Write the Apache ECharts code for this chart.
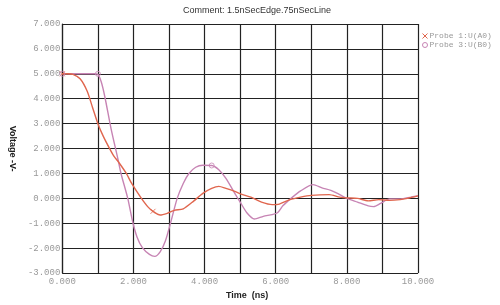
<!DOCTYPE html>
<html><head><meta charset="utf-8">
<script src="https://cdn.jsdelivr.net/npm/echarts@6/dist/echarts.min.js"></script>
<style>html,body{margin:0;padding:0;background:#fff}#c{width:500px;height:305px}</style>
</head><body><div id="c"></div>
<script>
const titleText = 'Comment: 1.5nSecEdge.75nSecLine';
const seriesNames = ['Probe 1:U(A0)', 'Probe 3:U(B0)'];
const xTicks = [0, 2, 4, 6, 8, 10];
const probe1 = [[0,5],[0.15,5],[0.3,4.98],[0.5,4.8],[0.7,4.3],[0.85,3.65],[1.0,3.0],[1.15,2.5],[1.33,2.0],[1.45,1.7],[1.6,1.42],[1.8,1.0],[1.95,0.6],[2.2,0.05],[2.4,-0.33],[2.55,-0.52],[2.75,-0.67],[2.95,-0.6],[3.15,-0.48],[3.4,-0.42],[3.7,-0.1],[3.95,0.2],[4.2,0.4],[4.4,0.48],[4.6,0.4],[4.85,0.28],[5.05,0.16],[5.3,0.05],[5.6,-0.15],[5.9,-0.25],[6.1,-0.23],[6.4,-0.05],[6.7,0.05],[7.0,0.12],[7.5,0.15],[7.8,0.05],[8.0,0.02],[8.3,0.0],[8.6,-0.1],[8.9,-0.05],[9.2,-0.08],[9.5,-0.05],[9.7,0.0],[10,0.1]];
const probe3 = [[0,5],[0.9,5.0],[1.0,4.98],[1.1,4.65],[1.2,4.05],[1.37,2.8],[1.56,1.6],[1.65,1.0],[1.84,0.0],[1.98,-0.95],[2.1,-1.55],[2.25,-1.98],[2.45,-2.25],[2.6,-2.33],[2.75,-2.15],[2.9,-1.7],[3.05,-0.95],[3.23,0.0],[3.4,0.6],[3.56,1.0],[3.75,1.25],[3.95,1.33],[4.2,1.32],[4.4,1.15],[4.6,0.8],[4.85,0.2],[5.0,-0.15],[5.2,-0.6],[5.4,-0.83],[5.65,-0.72],[5.9,-0.65],[6.05,-0.58],[6.2,-0.3],[6.43,0.0],[6.7,0.3],[7.05,0.55],[7.3,0.42],[7.55,0.32],[7.8,0.15],[8.0,0.0],[8.3,-0.15],[8.6,-0.3],[8.75,-0.33],[8.95,-0.2],[9.2,-0.02],[9.5,-0.02],[9.8,0.05],[10,0.1]];
const markers1 = [[0,5],[2.55,-0.52]];
const markers3 = [[0,5],[1.0,5.0],[4.2,1.32]];

const red = '#e0664e', purple = '#c784b4';
const xPath = 'path://M0,0L10,10M10,0L0,10';
const chart = echarts.init(document.getElementById('c'), null, {renderer:'canvas'});
const mono = 'Liberation Mono';
chart.setOption({
  animation:false,
  backgroundColor:'#fff',
  title:{text:titleText, left:252, top:1, textAlign:'center',
    textStyle:{fontFamily:'Liberation Sans', fontSize:9, fontWeight:'normal', color:'#333'}},
  legend:{orient:'vertical', left:417, top:27, itemGap:1, itemWidth:5, itemHeight:5,
    textStyle:{fontFamily:mono, fontSize:8, color:'#999', padding:[0,0,0,-3]},
    data:[
      {name:seriesNames[0], icon:xPath, itemStyle:{color:'transparent', borderColor:red, borderWidth:1}},
      {name:seriesNames[1], icon:'circle', itemStyle:{color:'transparent', borderColor:purple, borderWidth:1}}
    ]},
  grid:{left:59, right:82, top:24, bottom:28},
  xAxis:{type:'value', min:0, max:10, interval:1,
    name:'Time  (ns)', nameLocation:'middle', nameGap:15,
    nameTextStyle:{fontFamily:'Liberation Sans', fontSize:9, fontWeight:'bold', color:'#222', padding:[0,0,0,14]},
    axisLine:{show:true, lineStyle:{color:'#222', width:1.2}},
    axisTick:{show:false},
    axisLabel:{fontFamily:mono, fontSize:9, color:'#999', margin:4,
      formatter:v => xTicks.includes(v) ? v.toFixed(3) : ''},
    splitLine:{show:true, lineStyle:{color:'#222', width:1.2}}},
  yAxis:{type:'value', min:-3, max:7, interval:1,
    name:'Voltage -V-', nameLocation:'middle', nameGap:35, nameRotate:-90,
    nameTextStyle:{fontFamily:'Liberation Sans', fontSize:9, fontWeight:'bold', color:'#222'},
    axisLine:{show:true, lineStyle:{color:'#222', width:1.2}},
    axisTick:{show:false},
    axisLabel:{fontFamily:mono, fontSize:9, color:'#999', margin:2,
      formatter:v => v.toFixed(3)},
    splitLine:{show:true, lineStyle:{color:'#222', width:1.2}}},
  series:[
    {name:seriesNames[0], type:'line', data:probe1, smooth:0.25, showSymbol:false,
      lineStyle:{color:red, width:1.4}, itemStyle:{color:red}, z:4},
    {name:seriesNames[1], type:'line', data:probe3, smooth:0.25, showSymbol:false,
      lineStyle:{color:purple, width:1.4}, itemStyle:{color:purple}, z:3},
    {name:seriesNames[0], type:'scatter', data:markers1, symbol:xPath, symbolSize:5,
      itemStyle:{color:'transparent', borderColor:red, borderWidth:1}, z:5},
    {name:seriesNames[1], type:'scatter', data:markers3, symbol:'circle', symbolSize:5,
      itemStyle:{color:'transparent', borderColor:purple, borderWidth:1}, z:5}
  ]
});
</script></body></html>
